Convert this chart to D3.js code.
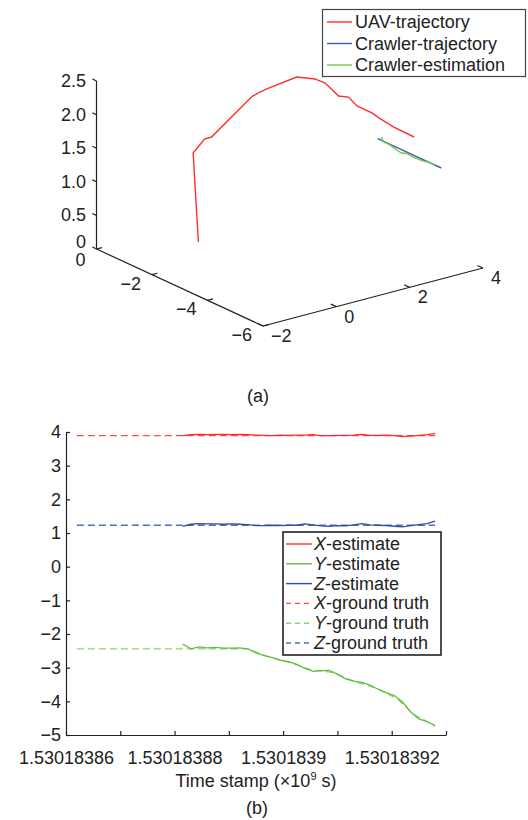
<!DOCTYPE html>
<html>
<head>
<meta charset="utf-8">
<script src="https://cdn.jsdelivr.net/npm/d3@7"></script>
<style>
  body { margin: 0; background: #fff; }
  svg { display: block; }
  text { font-family: 'Liberation Sans', Arial, sans-serif; fill: #222; }
</style>
</head>
<body>
<svg id="chart" width="528" height="820"></svg>
<script>
// ---- (a) 3D trajectories ----
const uavX = [-0.22, -0.25, -0.03, 0.04, 0.38, 0.90, 1.15, 1.88, 2.12, 2.20, 2.27, 2.48, 2.47, 2.72, 2.78, 2.90, 3.18];
const uavY = [-1.32, -1.17, -1.29, -1.45, -1.72, -1.79, -1.95, -2.09, -2.42, -2.69, -3.08, -3.16, -3.48, -3.69, -3.86, -4.24, -4.60];
const uavZ = [0.10, 1.40, 1.60, 1.65, 1.95, 2.20, 2.30, 2.40, 2.40, 2.38, 2.25, 2.22, 2.15, 2.05, 2.00, 1.92, 1.80];

const crawlerX = [3.80, 3.80, 3.80];
const crawlerY = [-2.47, -3.60, -4.76];
const crawlerZ = [1.28, 1.28, 1.28];

const crawlerEstX = [3.80, 3.80, 3.80, 3.80, 3.80, 3.80, 3.80, 3.80, 3.80, 3.80];
const crawlerEstY = [-2.61, -2.67, -2.91, -3.15, -3.33, -3.51, -3.75, -4.11, -4.29, -4.53];
const crawlerEstZ = [1.33, 1.27, 1.27, 1.24, 1.23, 1.26, 1.25, 1.26, 1.28, 1.28];

const ticks3X = [-2, 0, 2, 4];
const ticks3Y = [0, -2, -4, -6];
const ticks3Z = [0, 0.5, 1.0, 1.5, 2.0, 2.5];

// ---- (b) estimates vs ground truth ----
const stampLabels = ["1.53018386", "", "1.53018388", "", "1.5301839", "", "1.53018392", ""];
const stampTicks = [60, 70, 80, 90, 100, 110, 120, 130];   // seconds after 1530183800
const valueTicks = [4, 3, 2, 1, 0, -1, -2, -3, -4, -5];

const estTime = [81.5, 83, 84.5, 86, 87.5, 89, 90.5, 92, 93.5, 95, 96.5, 98, 99.5, 101, 102.5, 104,
                 105.5, 107, 108.5, 110, 111.5, 113, 114.5, 116, 117.5, 119, 120.5, 122, 123.5, 125, 126.5, 128];
const xEst = [3.89, 3.92, 3.93, 3.92, 3.93, 3.93, 3.92, 3.93, 3.92, 3.91, 3.90, 3.89, 3.91, 3.90, 3.91, 3.91,
              3.92, 3.89, 3.89, 3.90, 3.90, 3.91, 3.93, 3.90, 3.90, 3.91, 3.89, 3.86, 3.88, 3.90, 3.92, 3.95];
const yEst = [-2.30, -2.44, -2.38, -2.41, -2.40, -2.42, -2.42, -2.41, -2.44, -2.56, -2.64, -2.70, -2.78, -2.82, -2.90, -3.02,
              -3.11, -3.09, -3.08, -3.19, -3.33, -3.40, -3.44, -3.52, -3.64, -3.74, -3.83, -4.02, -4.32, -4.52, -4.60, -4.72];
const zEst = [1.20, 1.26, 1.28, 1.27, 1.27, 1.26, 1.27, 1.26, 1.25, 1.22, 1.22, 1.23, 1.22, 1.23, 1.23, 1.27,
              1.24, 1.21, 1.20, 1.22, 1.21, 1.24, 1.28, 1.24, 1.23, 1.22, 1.20, 1.18, 1.22, 1.25, 1.28, 1.35];

const truthTime = [62, 72, 82, 93.5, 97, 101, 105, 109, 113, 117, 121, 124, 128];
const xTruth = [3.89, 3.89, 3.89, 3.89, 3.89, 3.89, 3.89, 3.89, 3.89, 3.89, 3.89, 3.89, 3.89];
const yTruth = [-2.44, -2.44, -2.44, -2.44, -2.66, -2.84, -3.06, -3.14, -3.40, -3.60, -3.92, -4.38, -4.74];
const zTruth = [1.23, 1.23, 1.23, 1.23, 1.23, 1.23, 1.23, 1.23, 1.23, 1.23, 1.23, 1.23, 1.23];

const svg = d3.select("#chart");
const fontSize = 18;
const axisColor = "#222";

//function to zip arrays into point objects
function zip3(xs, ys, zs) {
  return xs.map((x, i) => ({x, y: ys[i], z: zs[i]}));
}
function zip2(ts, vs) {
  return ts.map((t, i) => ({t, v: vs[i]}));
}
function minus(v) {
  return v < 0 ? "\u2212" + (-v) : String(v);
}

// ===================== (a) =====================
const origin = [96.5, 249];      // X=-2, Y=0
const cornerA = [263, 326];      // X=-2, Y=-6
const endB = [483, 268];         // X=4,  Y=-6

const fracY = d3.scaleLinear().domain([0, -6]).range([0, 1]);
const fracX = d3.scaleLinear().domain([-2, 4]).range([0, 1]);
const zPix = d3.scaleLinear().domain([0, 2.5]).range([249, 81]);

function project(x, y, z) {
  const fa = fracY(y), fb = fracX(x);
  const px = origin[0] + fa * (cornerA[0] - origin[0]) + fb * (endB[0] - cornerA[0]);
  const py = zPix(z) + fa * (cornerA[1] - origin[1]) + fb * (endB[1] - cornerA[1]);
  return [px, py];
}

const line3 = d3.line()
  .x(d => project(d.x, d.y, d.z)[0])
  .y(d => project(d.x, d.y, d.z)[1]);

const ga = svg.append("g");

// axes lines
const axisSegs = [
  [project(-2, 0, 0), project(-2, -6, 0)],
  [project(-2, -6, 0), project(4, -6, 0)],
  [project(-2, 0, 0), project(-2, 0, 2.5)]
];
ga.selectAll("line.ax3")
  .data(axisSegs)
  .join("line")
  .attr("x1", d => d[0][0]).attr("y1", d => d[0][1])
  .attr("x2", d => d[1][0]).attr("y2", d => d[1][1])
  .attr("stroke", axisColor).attr("stroke-width", 1.2);

// Y axis ticks (front-left)
ticks3Y.forEach(v => {
  const p = project(-2, v, 0), q = project(-1.85, v, 0);
  ga.append("line").attr("x1", p[0]).attr("y1", p[1]).attr("x2", q[0]).attr("y2", q[1])
    .attr("stroke", axisColor).attr("stroke-width", 1.2);
  ga.append("text").attr("x", p[0] - 11).attr("y", p[1] + (v === 0 ? 17 : 15))
    .attr("text-anchor", "end").style("font-size", fontSize + "px")
    .text(minus(v));
});

// X axis ticks (front-right)
ticks3X.forEach(v => {
  const p = project(v, -6, 0), q = project(v, -5.8, 0);
  ga.append("line").attr("x1", p[0]).attr("y1", p[1]).attr("x2", q[0]).attr("y2", q[1])
    .attr("stroke", axisColor).attr("stroke-width", 1.2);
  ga.append("text").attr("x", p[0] + 8).attr("y", p[1] + 16)
    .attr("text-anchor", "start").style("font-size", fontSize + "px")
    .text(minus(v));
});

// Z axis ticks
ticks3Z.forEach(v => {
  const p = project(-2, 0, v), q = project(-2, 0.15, v);
  ga.append("line").attr("x1", p[0]).attr("y1", p[1]).attr("x2", q[0]).attr("y2", q[1])
    .attr("stroke", axisColor).attr("stroke-width", 1.2);
  ga.append("text").attr("x", 86).attr("y", p[1] + (v === 0 ? -1 : 6))
    .attr("text-anchor", "end").style("font-size", fontSize + "px")
    .text(v === 0 ? "0" : v.toFixed(1));
});

const series3 = [
  {pts: zip3(uavX, uavY, uavZ), color: "#ff2e2e"},
  {pts: zip3(crawlerX, crawlerY, crawlerZ), color: "#3a5db4"},
  {pts: zip3(crawlerEstX, crawlerEstY, crawlerEstZ), color: "#74c452"}
];
ga.selectAll("path.traj")
  .data(series3)
  .join("path")
  .attr("fill", "none")
  .attr("stroke", d => d.color)
  .attr("stroke-width", 1.4)
  .attr("d", d => line3(d.pts));

// legend (a)
const legA = ga.append("g");
legA.append("rect").attr("x", 322.5).attr("y", 9.5).attr("width", 203).attr("height", 67)
  .attr("fill", "#fff").attr("stroke", "#444").attr("stroke-width", 1.2);
const legAItems = [
  {label: "UAV-trajectory", color: "#ff2e2e"},
  {label: "Crawler-trajectory", color: "#3a5db4"},
  {label: "Crawler-estimation", color: "#74c452"}
];
legAItems.forEach((d, i) => {
  const cy = 22 + i * 21.5;
  legA.append("line").attr("x1", 327).attr("x2", 352).attr("y1", cy).attr("y2", cy)
    .attr("stroke", d.color).attr("stroke-width", 1.4);
  legA.append("text").attr("x", 355).attr("y", cy + 6).style("font-size", fontSize + "px").text(d.label);
});

svg.append("text").attr("x", 258).attr("y", 402).attr("text-anchor", "middle")
  .style("font-size", fontSize + "px").text("(a)");

// ===================== (b) =====================
const xT = d3.scaleLinear().domain([60, 130]).range([66, 446]);
const yV = d3.scaleLinear().domain([-5, 4]).range([735, 432]);

const gb = svg.append("g");

gb.append("g")
  .attr("transform", "translate(66,0)")
  .call(d3.axisLeft(yV).tickValues(valueTicks).tickSize(-4).tickSizeOuter(0).tickPadding(5)
    .tickFormat(minus))
  .call(g => g.selectAll("text").style("font-size", fontSize + "px").attr("fill", "#222"))
  .call(g => g.selectAll("path,line").attr("stroke", axisColor).attr("stroke-width", 1.2));

gb.append("g")
  .attr("transform", "translate(0,735)")
  .call(d3.axisBottom(xT).tickValues(stampTicks).tickSize(-4).tickSizeOuter(0).tickPadding(16)
    .tickFormat((d, i) => stampLabels[i]))
  .call(g => g.selectAll("text").style("font-size", fontSize + "px").attr("fill", "#222"))
  .call(g => g.selectAll("path,line").attr("stroke", axisColor).attr("stroke-width", 1.2));

const line2 = d3.line().x(d => xT(d.t)).y(d => yV(d.v));

const seriesB = [
  {pts: zip2(truthTime, xTruth), color: "#ff4848", dash: "7,4"},
  {pts: zip2(truthTime, yTruth), color: "#8fd06c", dash: "7,4"},
  {pts: zip2(truthTime, zTruth), color: "#4f6fc4", dash: "7,4"},
  {pts: zip2(estTime, xEst), color: "#ff2a2a", dash: null},
  {pts: zip2(estTime, yEst), color: "#66bb44", dash: null},
  {pts: zip2(estTime, zEst), color: "#2f4f9f", dash: null}
];
gb.selectAll("path.series")
  .data(seriesB)
  .join("path")
  .attr("fill", "none")
  .attr("stroke", d => d.color)
  .attr("stroke-width", 1.3)
  .attr("stroke-dasharray", d => d.dash)
  .attr("d", d => line2(d.pts));

// legend (b)
const legB = gb.append("g");
legB.append("rect").attr("x", 283).attr("y", 532).attr("width", 158).attr("height", 123)
  .attr("fill", "#fff").attr("stroke", "#222").attr("stroke-width", 1.6);
const legBItems = [
  {v: "X", rest: "-estimate", color: "#ff2a2a", dash: null},
  {v: "Y", rest: "-estimate", color: "#66bb44", dash: null},
  {v: "Z", rest: "-estimate", color: "#2f4f9f", dash: null},
  {v: "X", rest: "-ground truth", color: "#ff4848", dash: "5,4"},
  {v: "Y", rest: "-ground truth", color: "#8fd06c", dash: "5,4"},
  {v: "Z", rest: "-ground truth", color: "#4f6fc4", dash: "5,4"}
];
legBItems.forEach((d, i) => {
  const cy = 544 + i * 19.8;
  legB.append("line").attr("x1", 286).attr("x2", 312).attr("y1", cy).attr("y2", cy)
    .attr("stroke", d.color).attr("stroke-width", 1.4).attr("stroke-dasharray", d.dash);
  const t = legB.append("text").attr("x", 314).attr("y", cy + 6).style("font-size", fontSize + "px");
  t.append("tspan").style("font-style", "italic").text(d.v);
  t.append("tspan").text(d.rest);
});

// axis title
const title = svg.append("text").attr("x", 256).attr("y", 787).attr("text-anchor", "middle")
  .style("font-size", fontSize + "px");
title.append("tspan").text("Time stamp (\u00d710");
title.append("tspan").attr("dy", -7).style("font-size", "11px").text("9");
title.append("tspan").attr("dy", 7).text(" s)");

svg.append("text").attr("x", 257).attr("y", 814).attr("text-anchor", "middle")
  .style("font-size", fontSize + "px").text("(b)");
</script>
</body>
</html>
